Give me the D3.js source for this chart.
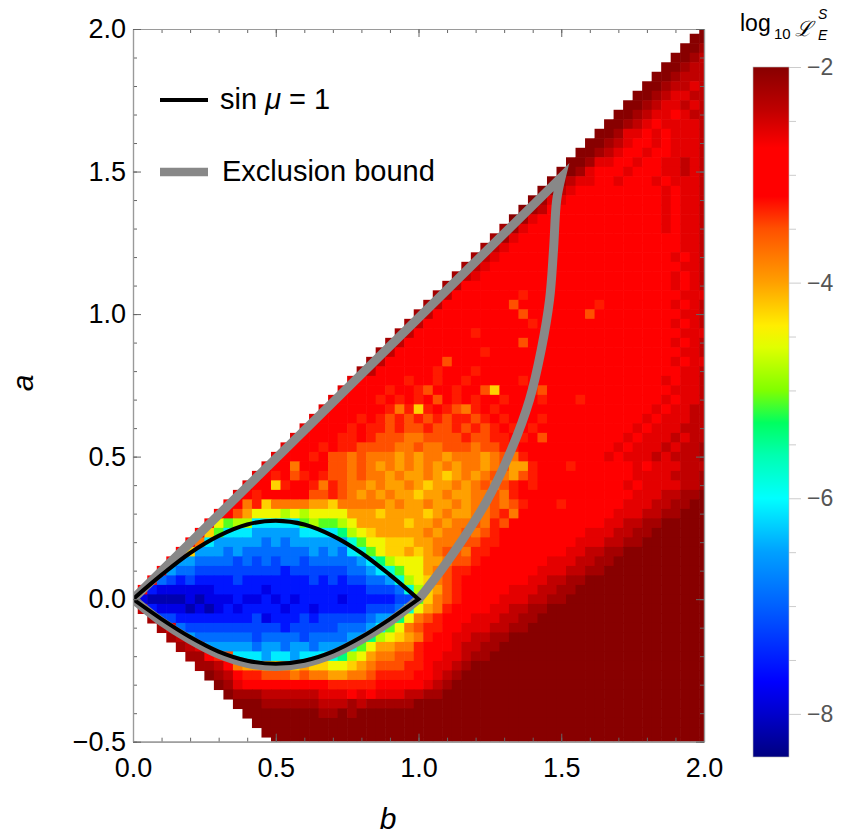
<!DOCTYPE html>
<html><head><meta charset="utf-8">
<script src="https://cdn.jsdelivr.net/npm/d3@7"></script>
<style>
body{margin:0;background:#fff}
svg text{font-family:"Liberation Sans",Arial,Helvetica,sans-serif}
</style>
</head><body>
<svg id="chart" width="846" height="834"></svg>
<script>
// ---------- data ----------
// cell codes -> log10 L value
const levelCodes  = "0123456789ABCDEFGHIJKLM";
const levelValues = [-2.0,-2.2,-2.4,-2.6,-2.8,-3.0,-3.3,-3.5,-3.75,-4.0,-4.25,-4.5,-4.8,-5.1,-5.4,-5.8,-6.1,-6.5,-6.9,-7.2,-7.55,-7.85,-8.15];
const cellStep = 1/30;          // grid spacing in a and b
const topRowIndex = 60;         // first row is centred at a = 60/30
// one string per row (a from 2 down to -0.5), right aligned so the last code is b = 2
const gridRows = [
"0",
"....0 0",
"...00 1",
"..001 2",
".0012 2",
"00122 2",
"....0 01223 2",
"...00 12332 2",
"..001 23323 2",
".0012 33432 2",
"00123 43333 2",
"....0 01334 34333 2",
"...00 12344 34333 2",
"..001 23443 44333 2",
".0013 34434 43323 2",
"00134 44344 43323 2",
"....0 12334 43444 34333 2",
"...01 23445 44544 43433 2",
"..013 34454 55445 43433 2",
".0124 45455 45544 43433 2",
"01344 55455 54544 43433 2",
"....1 13455 55455 55445 43433 2",
"...11 34555 45554 54445 55433 2",
"..123 45555 54555 45445 44433 2",
".1234 55555 55545 55445 44343 2",
"12345 55555 55554 54544 54433 2",
"....1 23455 55555 55545 55454 44343 2",
"...12 45555 55555 55555 54545 44343 2",
"..124 55555 56555 55555 55454 54433 3",
".1245 55555 75555 55556 54554 44343 2",
"12455 55555 57555 55575 55455 44433 2",
"....1 24555 55555 55655 55555 45545 44343 2",
"...12 45555 56555 55555 55555 54554 44433 3",
"..124 55555 55555 57555 55555 55455 44343 2",
".1245 55555 55655 55555 55555 54545 44433 2",
"12455 55575 55555 55555 55555 55454 44343 3",
"....1 24555 55655 56555 55555 55555 55545 44433 2",
"...34 55556 55655 65555 56555 55554 54544 43433 2",
"..345 55655 67556 557A5 55675 55555 45445 44333 2",
".3455 56565 65756 56556 55565 55655 54544 43433 2",
"34555 55686 A6567 86565 55555 55545 45444 34332 2",
"....3 45556 56767 67676 67656 55565 55554 54443 43332 2",
"...34 54565 66767 76776 76765 65655 55454 44434 33322 2",
"..345 55665 67778 87777 67766 56575 55454 44343 33232 2",
".3455 65667 77788 78877 78776 65555 54544 43433 32322 1",
"34556 57787 88898 98898 88987 86555 55444 34333 23222 1",
"....3 55855 57787 89898 98989 88987 99655 56555 44434 33322 2",
"...35 65765 67787 88989 989A9 89878 97655 55545 44433 33222 1",
"..355 A6556 86788 98998 9A998 98787 65655 55554 44343 33322 1",
".3565 55557 76789 89899 A9989 98878 65555 55454 44433 32211 0",
"4586A 88889 9A888 88989 98998 98878 76555 65544 44333 22110 0",
"....4 579BB BCBCB BBB99 9A999 9A989 98876 85555 55444 43332 21100 0",
"...4B DCCGG GGGDC DDCB9 9999A 99898 87867 55555 45444 33221 10000 0",
"..4AD GGGHH HHHGG GGECB A9999 98988 78765 55554 44433 32211 00000 0",
".48GH HHHHI HIHHH HHHFD BBAAA 99888 77665 55544 44333 22110 00000 0",
"4AHHH IHIII IIIIH IHIGF DBAA9 A9877 86655 55444 43322 11000 00000 0",
"....4 HHIII IJIJI JIIJI IIIIH GECBB B9987 76555 54443 33221 10000 00000 0",
"...4H IIJJJ JJJJJ JKJJJ JJJII HGFDB B9876 65555 44433 32211 00000 00000 0",
"..4IJ KJKKK KJKKK KKKKJ KJKJJ IIHFC BA876 55554 44332 21100 00000 00000 0",
".4KLL LLLLK KKKKL KKKKK KKKKK JJJIF CA976 55544 33322 11000 00000 00000 0",
"LLMMM MLMLL LKLLK LKLKK KKLKK KKKJJ DA876 55443 33221 10000 00000 00000 0",
".2KLL LMLML KLKKK KLKKL KKKKK JJJIF B9865 54433 22110 00000 00000 00000 0",
"..1JJ KKKKK KKKJL KKKJK JJJJJ IHHEB 87655 43332 21100 00000 00000 00000 0",
"...13 IJJJJ JJJJJ JKJJJ JJIII HGDB8 76654 33322 11000 00000 00000 00000 0",
"....1 2HIII IIIJI IIIJI IIIHH ECBA9 86543 32211 00000 00000 00000 00000 0",
"123HH HHHIH HIHHI HHHFD B9988 65443 22110 00000 00000 00000 00000 0",
".1146 7GGGH GGHGG GFECB 98877 65433 21100 00000 00000 00000 00000 0",
"..112 4899A A9A9A ABBA9 87776 64332 10000 00000 00000 00000 00000 0",
"...01 25667 77878 89988 76666 54321 00000 00000 00000 00000 00000 0",
"....0 13444 45555 56666 65555 53210 00000 00000 00000 00000 00000 0",
"01112 22222 33343 43332 21100 00000 00000 00000 00000 00000 0",
".0001 11111 22212 11111 00000 00000 00000 00000 00000 00000 0",
"..000 00000 11010 00000 00000 00000 00000 00000 00000 00000 0",
"...00 00000 00000 00000 00000 00000 00000 00000 00000 00000 0",
"....0 00000 00000 00000 00000 00000 00000 00000 00000 00000 0",
"00000 00000 00000 00000 00000 00000 00000 00000 00000 0"
];

// sin mu = 1 curve
const eyeB      = [0, 0.1, 0.2, 0.3, 0.4, 0.5, 0.6, 0.7, 0.8, 0.9, 1.0];
const eyeUpperA = [0, 0.085, 0.162, 0.222, 0.262, 0.275, 0.262, 0.222, 0.162, 0.085, 0];
const eyeLowerA = [0, -0.07, -0.133, -0.184, -0.216, -0.227, -0.216, -0.184, -0.133, -0.07, 0];

// exclusion bound
const exclDiagB  = [0, 1.5];
const exclDiagA  = [0, 1.48];
const exclRightB = [1.5, 1.484, 1.473, 1.459, 1.43, 1.389, 1.325, 1.241, 1.13, 1.025, 1.0];
const exclRightA = [1.48, 1.4, 1.227, 1.05, 0.875, 0.7, 0.524, 0.348, 0.173, 0.03, 0.0];
const exclLowerB = [1.0, 0.9, 0.8, 0.7, 0.6, 0.5, 0.4, 0.3, 0.2, 0.1, 0];
const exclLowerA = [0, -0.079, -0.142, -0.193, -0.225, -0.236, -0.225, -0.193, -0.142, -0.079, 0];

// axes / colour bar
const xTicks = [0, 0.5, 1, 1.5, 2];
const yTicks = [-0.5, 0, 0.5, 1, 1.5, 2];
const cbTicks = [-2, -4, -6, -8];
const cbMinorTicks = [-2.5,-3,-3.5,-4.5,-5,-5.5,-6.5,-7,-7.5];
const colorStopValues = [-8.4,-8.0,-7.7,-7.0,-6.5,-6.0,-5.6,-5.3,-5.0,-4.6,-4.4,-4.0,-3.5,-3.2,-2.75,-2.4,-2.0];
const colorStopColors = ["#000080","#0000cc","#0000ff","#0060ff","#00a0ff","#00ffff","#00ffb0","#00ff60","#80ff00","#e0ff00","#ffee00","#ffa000","#ff5000","#ff0000","#ff0000","#c00000","#880000"];

// ---------- drawing ----------
const svg = d3.select("#chart");
const x = d3.scaleLinear().domain([0, 2]).range([133, 704]);
const y = d3.scaleLinear().domain([-0.5, 2]).range([741.7, 29]);
const color = d3.scaleLinear().domain(colorStopValues).range(colorStopColors).clamp(true);

svg.append("defs").append("clipPath").attr("id","plotClip")
  .append("rect").attr("x", x(0)).attr("y", y(2)).attr("width", x(2)-x(0)).attr("height", y(-0.5)-y(2));

// heat map cells
const cells = [];
gridRows.forEach((row, i) => {
  const s = row.replace(/ /g, "");
  const offset = 61 - s.length;
  const a = (topRowIndex - i) * cellStep;
  for (let j = 0; j < s.length; j++) {
    const ch = s[j];
    if (ch === ".") continue;
    const k = offset + j;
    cells.push({b: k * cellStep, a: a, v: levelValues[levelCodes.indexOf(ch)]});
  }
});
const heat = svg.append("g").attr("clip-path", "url(#plotClip)");
heat.selectAll("rect").data(cells).enter().append("rect")
  .attr("x", d => x(d.b - cellStep/2))
  .attr("y", d => y(d.a + cellStep/2))
  .attr("width", d => x(d.b + cellStep/2) - x(d.b - cellStep/2) + 0.6)
  .attr("height", d => y(d.a - cellStep/2) - y(d.a + cellStep/2) + 0.6)
  .attr("fill", d => color(d.v));

// curves
const zip = (bs, as) => bs.map((b, i) => [b, as[i]]);
const lin = d3.line().x(d => x(d[0])).y(d => y(d[1]));
const cur = d3.line().x(d => x(d[0])).y(d => y(d[1])).curve(d3.curveCatmullRom.alpha(0.5));
const cont = p => p.replace(/^M[^A-Za-z]*/, "");

const exclPath = lin(zip(exclDiagB, exclDiagA)) +
  cont(cur(zip(exclRightB, exclRightA))) +
  cont(cur(zip(exclLowerB, exclLowerA))) + "Z";
const lines = svg.append("g").attr("clip-path", "url(#plotClip)");
lines.append("path").attr("d", exclPath)
  .attr("fill", "none").attr("stroke", "#888888").attr("stroke-width", 9)
  .attr("stroke-linejoin", "miter");

const eyePath = cur(zip(eyeB, eyeUpperA)) +
  cont(cur(zip(eyeB.slice().reverse(), eyeLowerA.slice().reverse()))) + "Z";
lines.append("path").attr("d", eyePath)
  .attr("fill", "none").attr("stroke", "#000").attr("stroke-width", 4)
  .attr("stroke-linejoin", "miter");

// axes (frame with inward ticks)
function styleAxis(g) {
  g.select(".domain").attr("stroke", "#9a9a9a").attr("stroke-width", 1.2);
  g.selectAll(".tick line").attr("stroke", "#666").attr("stroke-width", 1);
  g.selectAll(".tick text").attr("fill", "#000").attr("font-size", 27)
    .attr("font-family", "Liberation Sans, Arial, sans-serif");
}
const xMinor = d3.range(0, 21).map(i => i / 10);
const yMinor = d3.range(-5, 21).map(i => i / 10);
const fmt = d3.format(".1f");

svg.append("g").attr("transform", `translate(0,${y(-0.5)})`)
  .call(d3.axisBottom(x).tickValues(xMinor).tickSize(-4).tickSizeOuter(0).tickFormat("")).call(styleAxis);
svg.append("g").attr("transform", `translate(0,${y(-0.5)})`)
  .call(d3.axisBottom(x).tickValues(xTicks).tickSize(-8).tickSizeOuter(0).tickPadding(16).tickFormat(fmt)).call(styleAxis);
svg.append("g").attr("transform", `translate(0,${y(2)})`)
  .call(d3.axisTop(x).tickValues(xMinor).tickSize(-4).tickSizeOuter(0).tickFormat("")).call(styleAxis);
svg.append("g").attr("transform", `translate(0,${y(2)})`)
  .call(d3.axisTop(x).tickValues(xTicks).tickSize(-8).tickSizeOuter(0).tickFormat("")).call(styleAxis);
svg.append("g").attr("transform", `translate(${x(0)},0)`)
  .call(d3.axisLeft(y).tickValues(yMinor).tickSize(-4).tickSizeOuter(0).tickFormat("")).call(styleAxis);
svg.append("g").attr("transform", `translate(${x(0)},0)`)
  .call(d3.axisLeft(y).tickValues(yTicks).tickSize(-8).tickSizeOuter(0).tickPadding(7).tickFormat(fmt)).call(styleAxis);
svg.append("g").attr("transform", `translate(${x(2)},0)`)
  .call(d3.axisRight(y).tickValues(yMinor).tickSize(-4).tickSizeOuter(0).tickFormat("")).call(styleAxis);
svg.append("g").attr("transform", `translate(${x(2)},0)`)
  .call(d3.axisRight(y).tickValues(yTicks).tickSize(-8).tickSizeOuter(0).tickFormat("")).call(styleAxis);

// axis titles
svg.append("text").attr("x", 388).attr("y", 829).attr("text-anchor", "middle")
  .attr("font-family", "Liberation Serif, Times New Roman, serif").attr("font-style", "italic")
  .attr("font-size", 30).text("b");
svg.append("text").attr("transform", "translate(33,383) rotate(-90)").attr("text-anchor", "middle")
  .attr("font-family", "Liberation Serif, Times New Roman, serif").attr("font-style", "italic")
  .attr("font-size", 30).text("a");

// legend
svg.append("line").attr("x1", 160).attr("x2", 208).attr("y1", 100).attr("y2", 100)
  .attr("stroke", "#000").attr("stroke-width", 4);
const t1 = svg.append("text").attr("x", 220).attr("y", 109).attr("font-size", 29);
t1.append("tspan").text("sin ");
t1.append("tspan").attr("font-style", "italic").text("μ");
t1.append("tspan").text(" = 1");
svg.append("line").attr("x1", 160).attr("x2", 208).attr("y1", 172).attr("y2", 172)
  .attr("stroke", "#888888").attr("stroke-width", 8.5);
svg.append("text").attr("x", 222).attr("y", 181).attr("font-size", 29).text("Exclusion bound");

// colour bar
const cb = d3.scaleLinear().domain([-8.4, -2]).range([757, 67]);
const grad = svg.select("defs").append("linearGradient").attr("id", "cbGrad")
  .attr("x1", 0).attr("y1", 1).attr("x2", 0).attr("y2", 0);
colorStopValues.forEach((v, i) => {
  grad.append("stop").attr("offset", (v + 8.4) / 6.4).attr("stop-color", colorStopColors[i]);
});
svg.append("rect").attr("x", 753).attr("y", cb(-2)).attr("width", 36).attr("height", cb(-8.4) - cb(-2))
  .attr("fill", "url(#cbGrad)").attr("stroke", "#bbb").attr("stroke-width", 0.6);
const cbAxisMinor = svg.append("g").attr("transform", "translate(789,0)")
  .call(d3.axisRight(cb).tickValues(cbMinorTicks).tickSize(7).tickSizeOuter(0).tickFormat(""));
cbAxisMinor.select(".domain").remove();
cbAxisMinor.selectAll(".tick line").attr("stroke", "#ccc");
const cbAxis = svg.append("g").attr("transform", "translate(789,0)")
  .call(d3.axisRight(cb).tickValues(cbTicks).tickSize(12).tickSizeOuter(0).tickPadding(6).tickFormat(d3.format("d")));
cbAxis.select(".domain").remove();
cbAxis.selectAll(".tick line").attr("stroke", "#ccc");
cbAxis.selectAll(".tick text").attr("fill", "#555").attr("font-size", 23);

// colour bar title: log10 L^S_E
const ttl = svg.append("g");
ttl.append("text").attr("x", 740).attr("y", 31).attr("font-size", 23).text("log");
ttl.append("text").attr("x", 774).attr("y", 39).attr("font-size", 15).text("10");
ttl.append("text").attr("x", 795).attr("y", 36).attr("font-size", 21)
  .attr("font-family", "DejaVu Serif, serif").attr("font-style", "italic").text("ℒ");
ttl.append("text").attr("x", 818).attr("y", 19).attr("font-size", 14)
  .attr("font-family", "Liberation Serif, serif").attr("font-style", "italic").text("S");
ttl.append("text").attr("x", 818).attr("y", 40).attr("font-size", 14)
  .attr("font-family", "Liberation Serif, serif").attr("font-style", "italic").text("E");
</script>
</body></html>
